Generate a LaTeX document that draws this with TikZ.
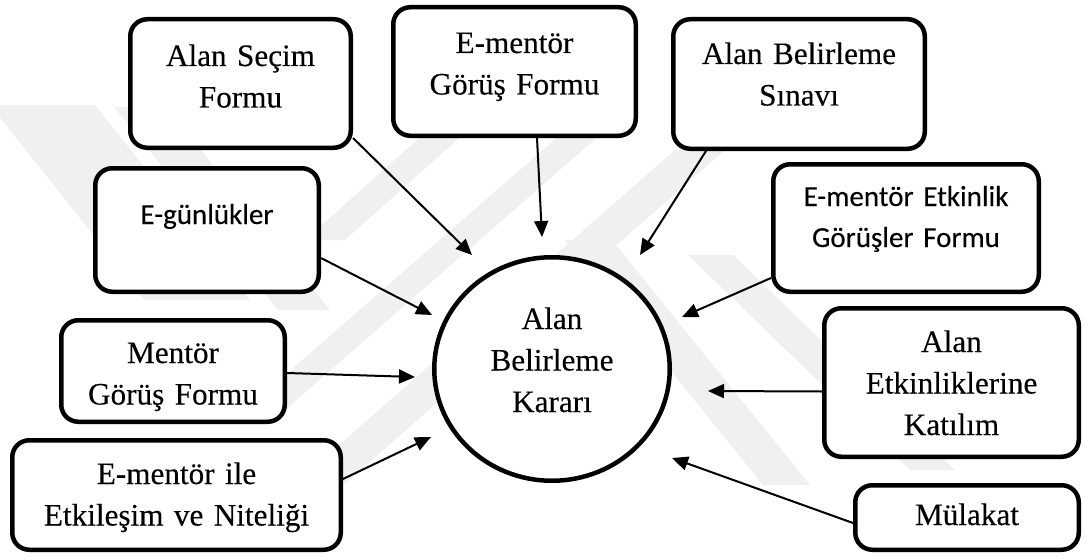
\documentclass[tikz,border=0pt]{standalone}
\usepackage{fontspec}
\setmainfont{Liberation Serif}[FakeBold=0.25]
\newfontfamily\calibri{Carlito}[FakeBold=0.2]
\usetikzlibrary{arrows.meta,calc,shapes.geometric}
\begin{document}
\begin{tikzpicture}[x=1pt,y=-1pt,
  box/.style={draw, line width=4.5pt, rounded corners=17pt, fill=white, inner sep=0pt},
  ser/.style={font=\fontsize{31.2}{41.5}\selectfont, text width=360pt, align=center, anchor=base, inner sep=0pt},
  cal/.style={font=\calibri\fontsize{29}{41}\selectfont, text width=300pt, align=center, anchor=base, inner sep=0pt},
  arr/.style={line width=2pt, -{Triangle[length=16pt,width=14pt]}},
  wm/.style={fill=black!6, draw=none}]
\useasboundingbox (0,0) rectangle (1086,559);

% faint background emblem
\fill[wm] (-10,105) -- (95,105) -- (250,300) -- (145,300) -- cycle;
\fill[wm] (114,107) -- (166,107) -- (330,310) -- (278,310) -- cycle;
\fill[wm] (290,488) -- (340,488) -- (725,150) -- (675,150) -- cycle;
\fill[wm] (245,410) -- (285,410) -- (640,100) -- (600,100) -- cycle;
\fill[wm] (305,240) -- (345,240) -- (485,115) -- (445,115) -- cycle;
\fill[wm] (565,240) -- (612,240) -- (810,485) -- (763,485) -- cycle;
\fill[wm] (688,255) -- (733,255) -- (955,470) -- (910,470) -- cycle;

% boxes
\node[box, minimum width=220.5pt, minimum height=128.5pt] (asf)  at (240.5,83.5) {};
\node[box, minimum width=242.5pt, minimum height=128.5pt] (egf)  at (514.5,71.5) {};
\node[box, minimum width=251.5pt, minimum height=129.5pt] (abs)  at (799,84) {};
\node[box, minimum width=223.5pt, minimum height=123.5pt] (egun) at (207,230) {};
\node[box, minimum width=265.5pt, minimum height=127.5pt] (eeg)  at (906,228) {};
\node[box, minimum width=223.5pt, minimum height=101.5pt] (mgf)  at (173,371) {};
\node[box, minimum width=254.5pt, minimum height=148.5pt] (aek)  at (951.5,382.5) {};
\node[box, minimum width=328.5pt, minimum height=109.5pt] (emi)  at (176.5,495) {};
\node[box, minimum width=223.5pt, minimum height=64.5pt]  (mul)  at (967,517.5) {};
\node[ellipse, draw, line width=4.5pt, fill=white, minimum width=235.5pt, minimum height=223.5pt, inner sep=0pt] (kar) at (552,369) {};

% labels
\node[ser] (asf-t)  at (240.5,66) {Alan Seçim\\Formu};
\node[ser] (egf-t)  at (514.5,53) {E-mentör\\Görüş Formu};
\node[ser] (abs-t)  at (799,64) {Alan Belirleme\\Sınavı};
\node[cal] (egun-t) at (207,224) {E-günlükler};
\node[cal] (eeg-t)  at (906,206) {E-mentör Etkinlik\\Görüşler Formu};
\node[ser] (mgf-t)  at (173,363) {Mentör\\Görüş Formu};
\node[ser] (aek-t)  at (951.5,352) {Alan\\Etkinliklerine\\Katılım};
\node[ser] (emi-t)  at (176.5,484) {E-mentör ile\\Etkileşim ve Niteliği};
\node[ser] (mul-t)  at (967,525) {Mülakat};
\node[ser] (kar-t)  at (552,329) {Alan\\Belirleme\\Kararı};

% arrow tips around the decision node
\coordinate (t1) at (472,255);
\coordinate (t2) at (542,237);
\coordinate (t3) at (640,255);
\coordinate (t4) at (432,315);
\coordinate (t5) at (415,377);
\coordinate (t6) at (431,437);
\coordinate (t7) at (682,317);
\coordinate (t8) at (708,391);
\coordinate (t9) at (672,458);

\draw[arr] ($(asf.south east)+(0,-12)$) -- (t1);
\draw[arr] ($(egf.south)+(22.5,0)$) -- (t2);
\draw[arr] ($(abs.south)+(-93,0)$) -- (t3);
\draw[arr] ($(egun.east)+(0,28)$) -- (t4);
\draw[arr] ($(mgf.east)+(0,2)$) -- (t5);
\draw[arr] ($(emi.east)+(0,-16)$) -- (t6);
\draw[arr] ($(eeg.west)+(0,50)$) -- (t7);
\draw[arr] ($(aek.west)+(0,9)$) -- (t8);
\draw[arr] ($(mul.west)+(0,5.5)$) -- (t9);
\end{tikzpicture}
\end{document}
